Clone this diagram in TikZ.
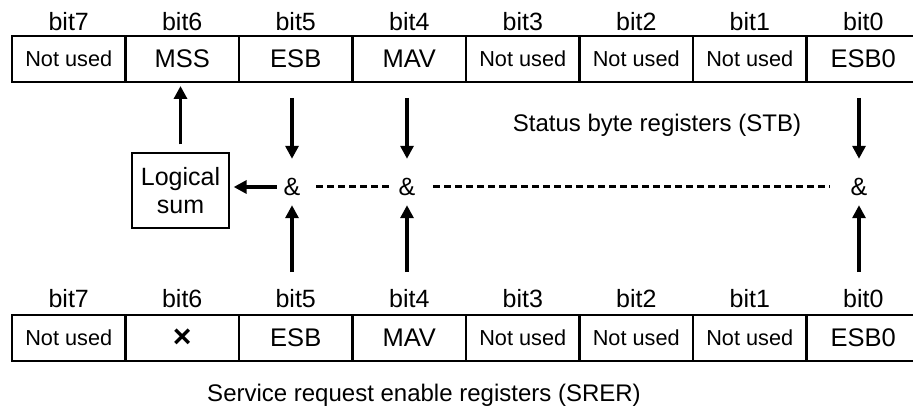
\documentclass[tikz,border=0pt]{standalone}
\usepackage{fontspec}
\setmainfont{Liberation Sans}
\usetikzlibrary{arrows.meta,positioning}

\begin{document}
\begin{tikzpicture}[x=1pt, y=-1pt,
    cell/.style={rectangle, draw=black, line width=2.2pt, minimum width=113.5pt, minimum height=46pt, inner sep=0pt, outer sep=0pt, text centered, font=\fontsize{25.5}{29}\selectfont},
    unused/.style={cell, font=\fontsize{21.7}{25}\selectfont},
    bitlbl/.style={inner sep=0pt, font=\fontsize{25}{29}\selectfont},
    andgate/.style={minimum width=30pt, minimum height=32pt, inner sep=0pt, font=\fontsize{25}{29}\selectfont},
    logic/.style={rectangle, draw=black, line width=1.3pt, minimum width=97pt, minimum height=75pt, align=center, font=\fontsize{25}{28}\selectfont},
    caption/.style={font=\fontsize{24}{28}\selectfont},
    arrow/.style={-{Triangle[length=13pt, width=13pt]}, line width=3.2pt},
    chain/.style={line width=3pt, dash pattern=on 7pt off 4pt}
]
\useasboundingbox (0,0) rectangle (913,411);
\clip (0,0) rectangle (913,411);

% status byte register
\node[unused, anchor=north west] (s7) at (12,36) {Not used};
\node[cell, right=0pt of s7] (s6) {MSS};
\node[cell, right=0pt of s6] (s5) {ESB};
\node[cell, right=0pt of s5] (s4) {MAV};
\node[unused, right=0pt of s4] (s3) {Not used};
\node[unused, right=0pt of s3] (s2) {Not used};
\node[unused, right=0pt of s2] (s1) {Not used};
\node[cell, right=0pt of s1] (s0) {ESB0};
\node[bitlbl, above=5pt of s7] (sb7) {bit7};
\node[bitlbl, above=5pt of s6] (sb6) {bit6};
\node[bitlbl, above=5pt of s5] (sb5) {bit5};
\node[bitlbl, above=5pt of s4] (sb4) {bit4};
\node[bitlbl, above=5pt of s3] (sb3) {bit3};
\node[bitlbl, above=5pt of s2] (sb2) {bit2};
\node[bitlbl, above=5pt of s1] (sb1) {bit1};
\node[bitlbl, above=5pt of s0] (sb0) {bit0};
\node[caption] (stb) at (657,125) {Status byte registers (STB)};

% service request enable register
\node[unused, anchor=north west] (r7) at (12,315) {Not used};
\node[cell, right=0pt of r7] (r6) {\fontsize{32}{32}\selectfont\bfseries ×};
\node[cell, right=0pt of r6] (r5) {ESB};
\node[cell, right=0pt of r5] (r4) {MAV};
\node[unused, right=0pt of r4] (r3) {Not used};
\node[unused, right=0pt of r3] (r2) {Not used};
\node[unused, right=0pt of r2] (r1) {Not used};
\node[cell, right=0pt of r1] (r0) {ESB0};
\node[bitlbl, above=7pt of r7] (rb7) {bit7};
\node[bitlbl, above=7pt of r6] (rb6) {bit6};
\node[bitlbl, above=7pt of r5] (rb5) {bit5};
\node[bitlbl, above=7pt of r4] (rb4) {bit4};
\node[bitlbl, above=7pt of r3] (rb3) {bit3};
\node[bitlbl, above=7pt of r2] (rb2) {bit2};
\node[bitlbl, above=7pt of r1] (rb1) {bit1};
\node[bitlbl, above=7pt of r0] (rb0) {bit0};
\node[caption] (srer) at (424,395) {Service request enable registers (SRER)};

% gates
\node[andgate] (and5) at (292,187) {\&};
\node[andgate] (and4) at (407,187) {\&};
\node[andgate] (and0) at (859,187) {\&};
\node[logic] (sum) at (180.5,190.5) {Logical\\sum};

\draw[arrow, shorten <=16pt, shorten >=12pt] (s5.south -| and5) -- (and5.north);
\draw[arrow, shorten <=16pt, shorten >=12pt] (s4.south -| and4) -- (and4.north);
\draw[arrow, shorten <=16pt, shorten >=12pt] (s0.south -| and0) -- (and0.north);
\draw[arrow, shorten <=17pt, shorten >=2pt] (rb5.north -| and5) -- (and5.south);
\draw[arrow, shorten <=17pt, shorten >=2pt] (rb4.north -| and4) -- (and4.south);
\draw[arrow, shorten <=17pt, shorten >=2pt] (rb0.north -| and0) -- (and0.south);
\draw[chain, shorten <=9pt, shorten >=1pt] (and5.east) -- (and4.west);
\draw[chain, shorten <=11pt, shorten >=14pt] (and4.east) -- (and0.west);
\draw[arrow, shorten >=4pt] (and5.west) -- (and5.west -| sum.east);
\draw[arrow, shorten <=8pt, shorten >=4pt] (sum.north) -- (sum.north |- s6.south);
\end{tikzpicture}
\end{document}
